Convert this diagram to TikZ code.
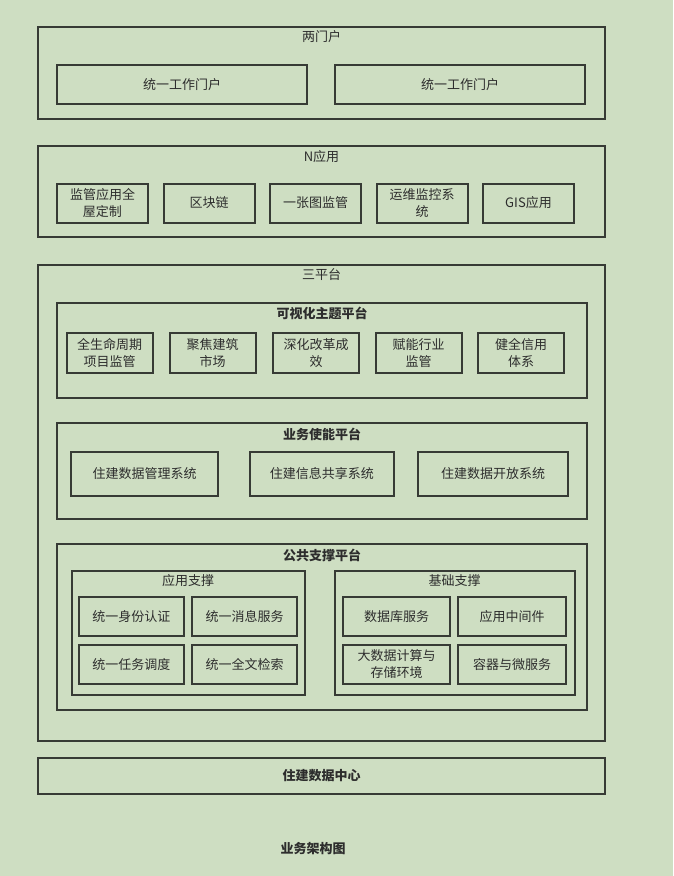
\documentclass[tikz,border=0pt]{standalone}
\usepackage{fontspec}
\setmainfont{Noto Sans CJK SC}
\definecolor{bgc}{RGB}{206,222,194}
\definecolor{linec}{RGB}{55,59,53}
\definecolor{txtc}{RGB}{45,45,45}
\begin{document}
\begin{tikzpicture}[x=1pt,y=-1pt,
  box/.style={draw=linec, line width=2pt, rectangle, inner sep=0pt, align=center, text=txtc,
    font=\fontsize{13}{16.5}\selectfont},
  ttl/.style={text=txtc, inner sep=0pt, font=\fontsize{13}{16}\selectfont},
  bttl/.style={text=txtc, inner sep=0pt, font=\fontsize{13}{16}\selectfont\bfseries}]
\fill[bgc] (0,0) rectangle (673,876);
\useasboundingbox (0,0) rectangle (673,876);
% 两门户
\node[box, minimum width=567pt, minimum height=92pt] (twoDoor) at (321.5,73) {};
\node[ttl] (twoDoorT) at (321.5,37) {两门户};
\node[box, minimum width=250pt, minimum height=39pt] (p1) at (182,84.5) {统一工作门户};
\node[box, minimum width=250pt, minimum height=39pt] (p2) at (460,84.5) {统一工作门户};
% N应用
\node[box, minimum width=567pt, minimum height=91pt] (nApp) at (321.5,191.5) {};
\node[ttl] (nAppT) at (321.5,157) {N应用};
\foreach \cx/\t/\n in {102.5/{监管应用全\\屋定制}/a1, 209/区块链/a2, 315.5/一张图监管/a3, 422/{运维监控系\\统}/a4, 528.5/GIS应用/a5}
  \node[box, minimum width=91pt, minimum height=39pt] (\n) at (\cx,203) {\t};
% 三平台
\node[box, minimum width=567pt, minimum height=476pt] (three) at (321.5,503) {};
\node[ttl] (threeT) at (321.5,275) {三平台};
% 可视化主题平台
\node[box, minimum width=530pt, minimum height=95.5pt] (vis) at (322,350.25) {};
\node[bttl] (visT) at (322,313) {可视化主题平台};
\foreach \cx/\t/\n in {109.5/{全生命周期\\项目监管}/v1, 212.5/{聚焦建筑\\市场}/v2, 316/{深化改革成\\效}/v3, 418.5/{赋能行业\\监管}/v4, 521/{健全信用\\体系}/v5}
  \node[box, minimum width=86pt, minimum height=40pt] (\n) at (\cx,353) {\t};
% 业务使能平台
\node[box, minimum width=530pt, minimum height=96pt] (biz) at (322,471) {};
\node[bttl] (bizT) at (322,434) {业务使能平台};
\node[box, minimum width=146.5pt, minimum height=44pt] (b1) at (144.7,474) {住建数据管理系统};
\node[box, minimum width=143.6pt, minimum height=44pt] (b2) at (321.8,474) {住建信息共享系统};
\node[box, minimum width=150pt, minimum height=44pt] (b3) at (493,474) {住建数据开放系统};
% 公共支撑平台
\node[box, minimum width=530pt, minimum height=165.5pt] (pub) at (322,626.75) {};
\node[bttl] (pubT) at (322,555) {公共支撑平台};
\node[box, minimum width=233pt, minimum height=124pt] (appS) at (188,633) {};
\node[ttl] (appST) at (188,581) {应用支撑};
\node[box, minimum width=240pt, minimum height=124pt] (baseS) at (454.5,633) {};
\node[ttl] (baseST) at (454.5,581) {基础支撑};
\node[box, minimum width=105.4pt, minimum height=39pt] (s1) at (131.3,616.5) {统一身份认证};
\node[box, minimum width=105pt, minimum height=39pt] (s2) at (244.5,616.5) {统一消息服务};
\node[box, minimum width=105.4pt, minimum height=38.5pt] (s3) at (131.3,664.25) {统一任务调度};
\node[box, minimum width=105pt, minimum height=38.5pt] (s4) at (244.5,664.25) {统一全文检索};
\node[box, minimum width=107pt, minimum height=39pt] (r1) at (396.5,616.5) {数据库服务};
\node[box, minimum width=108pt, minimum height=39pt] (r2) at (512.2,616.5) {应用中间件};
\node[box, minimum width=107pt, minimum height=38.5pt] (r3) at (396.5,664.25) {大数据计算与\\存储环境};
\node[box, minimum width=108pt, minimum height=38.5pt] (r4) at (512.2,664.25) {容器与微服务};
% 住建数据中心
\node[box, minimum width=567pt, minimum height=36pt, font=\fontsize{13}{16}\selectfont\bfseries] (dc) at (321.5,776) {住建数据中心};
% caption
\node[bttl] (cap) at (313,849) {业务架构图};
\end{tikzpicture}
\end{document}
